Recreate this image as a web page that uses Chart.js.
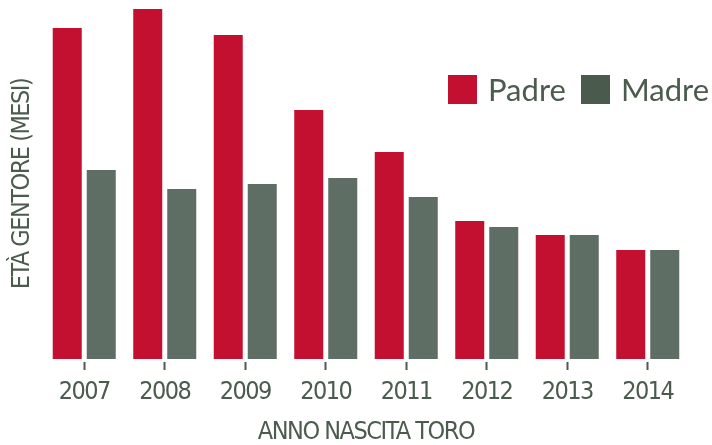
<!DOCTYPE html>
<html lang="it">
<head>
<meta charset="utf-8">
<script src="https://cdn.jsdelivr.net/npm/chart.js@4"></script>
<style>
  body { margin: 0; background: #fff; }
  #wrap { position: relative; width: 712px; height: 445px; }
  #legend { position: absolute; left: 448px; top: 70px; display: flex; align-items: center;
            font-family: Lato, "Noto Sans", sans-serif; font-size: 31px; color: #4b5b4d; }
  .lg-item { display: flex; align-items: center; margin-right: 15px; }
  .lg-box { width: 29px; height: 29px; margin-right: 11px; }
</style>
</head>
<body>
<div id="wrap">
  <canvas id="chart" width="712" height="445"></canvas>
  <div id="legend"></div>
</div>
<script>
const YEARS = ['2007', '2008', '2009', '2010', '2011', '2012', '2013', '2014'];
const PADRE = [66.2, 70, 64.8, 49.8, 41.4, 27.6, 24.8, 21.8];
const MADRE = [37.8, 34, 35, 36.2, 32.4, 26.4, 24.8, 21.8];
const SERIES_NAMES = ['Padre', 'Madre'];

const TEXT = '#4b5b4d';
const NARROW = '"Liberation Sans Narrow", "DejaVu Sans Condensed", "Liberation Sans", sans-serif';

const datasets = [
  { label: SERIES_NAMES[0], data: PADRE, backgroundColor: '#c41030', legendColor: '#c41030' },
  { label: SERIES_NAMES[1], data: MADRE, backgroundColor: '#5e6e64', legendColor: '#4a5a4c' },
].map(d => ({ ...d, categoryPercentage: 0.845, barPercentage: 0.853, borderWidth: 0 }));

// legend in html, like the original (sits inside the plot area)
document.getElementById('legend').innerHTML = datasets.map(d => `
  <div class="lg-item"><div class="lg-box" style="background:${d.legendColor}"></div>${d.label}</div>`).join('');

// the original uses a condensed face; tighten the fallback a bit
const tightText = {
  id: 'tightText',
  beforeDraw(chart) { chart.ctx.letterSpacing = '-1.5px'; },
  afterDraw(chart) { chart.ctx.letterSpacing = '0px'; },
};

new Chart(document.getElementById('chart'), {
  type: 'bar',
  data: { labels: YEARS, datasets },
  plugins: [tightText],
  options: {
    responsive: false,
    animation: false,
    layout: { padding: { top: 9, right: 24, left: 0, bottom: 0 } },
    plugins: { legend: { display: false }, tooltip: { enabled: false } },
    scales: {
      x: {
        grid: { display: true, offset: false, drawOnChartArea: false, tickLength: 11, tickWidth: 2,
                tickColor: TEXT, tickBorderDash: [0, 3, 8, 0] },
        border: { display: false },
        ticks: { color: TEXT, padding: 7, font: { family: NARROW, size: 25 } },
        title: { display: true, text: 'ANNO NASCITA TORO', color: TEXT,
                 font: { family: NARROW, size: 25, lineHeight: 1.0 },
                 padding: { top: 6, bottom: 0 } },
      },
      y: {
        min: 0, max: 70,
        grid: { display: false, drawTicks: false },
        border: { display: false },
        ticks: { display: false },
        title: { display: true, text: 'ETÀ GENTORE (MESI)', color: TEXT,
                 font: { family: NARROW, size: 25 },
                 padding: { top: 7, bottom: 7 } },
      },
    },
  },
});
</script>
</body>
</html>
